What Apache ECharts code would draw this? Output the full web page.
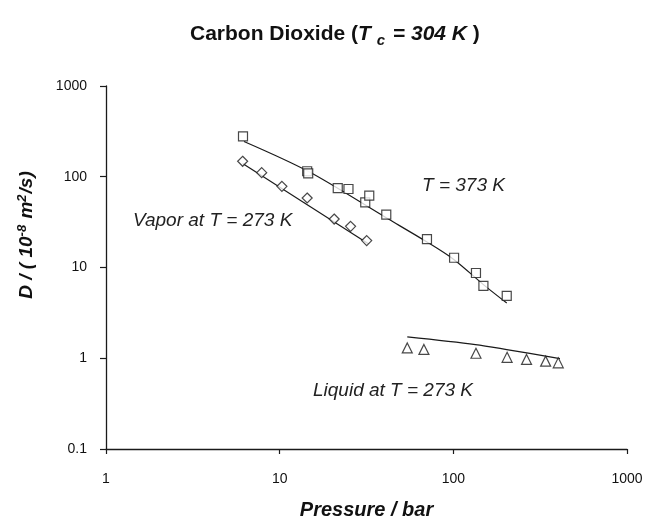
<!DOCTYPE html>
<html>
<head>
<meta charset="utf-8">
<script src="https://cdn.jsdelivr.net/npm/echarts@6/dist/echarts.min.js"></script>
<style>
  html, body { margin: 0; padding: 0; background: #fff; }
  #chart { width: 645px; height: 522px; }
</style>
</head>
<body>
<div id="chart"></div>
<script>
// T = 373 K (squares), pressure in bar, D in 1e-8 m2/s
var hotP = [6.15, 14.4, 14.6, 21.6, 24.9, 31.1, 32.8, 41.1, 70.5, 101, 135, 149, 203];
var hotD = [279, 115, 109, 75.1, 73.3, 52.2, 61.9, 38.3, 20.5, 12.8, 8.7, 6.26, 4.86];
var hotFitP = [6.23, 14.6, 41.3, 70.5, 101, 149, 203];
var hotFitD = [245, 114.7, 35.1, 19.1, 12.2, 6.48, 4.06];

// vapor at T = 273 K (diamonds)
var vapP = [6.12, 7.88, 10.3, 14.4, 20.6, 25.6, 31.7];
var vapD = [148, 111, 78.4, 58.3, 34.2, 28.4, 19.8];
var vapFitP = [6.12, 32.4];
var vapFitD = [140, 18.3];

// liquid at T = 273 K (triangles)
var liqP = [54.3, 67.7, 135, 204, 264, 340, 402];
var liqD = [1.30, 1.25, 1.135, 1.025, 0.97, 0.93, 0.89];
var liqFitP = [54.3, 134, 203, 411];
var liqFitD = [1.717, 1.416, 1.247, 0.99];

var xTicks = [1, 10, 100, 1000];
var yTicks = [0.1, 1, 10, 100, 1000];

function pairs(xs, ys) {
  return xs.map(function (x, i) { return [x, ys[i]]; });
}

var FONT = '"Liberation Sans", Arial, sans-serif';
var chart = echarts.init(document.getElementById('chart'));

function fitLine(xs, ys, smooth) {
  return {
    type: 'line',
    data: pairs(xs, ys),
    showSymbol: false,
    smooth: smooth,
    lineStyle: { color: '#1a1a1a', width: 1.2 },
    z: 2,
    silent: true
  };
}
function points(xs, ys, symbol, size) {
  return {
    type: 'scatter',
    data: pairs(xs, ys),
    symbol: symbol,
    symbolSize: size,
    itemStyle: { color: '#fff', borderColor: '#1a1a1a', borderWidth: 1.2 },
    z: 3,
    silent: true
  };
}
function tickText(v) { return String(+(+v).toPrecision(3)); }

var option = {
  backgroundColor: '#fff',
  animation: false,
  title: {
    text: '{b|Carbon Dioxide (}{i|T }{s|c}{i| = 304 K}{b| )}',
    left: 185,
    top: 16,
    textStyle: {
      rich: {
        b: { fontFamily: FONT, fontSize: 21, fontWeight: 'bold', color: '#111' },
        i: { fontFamily: FONT, fontSize: 21, fontWeight: 'bold', fontStyle: 'italic', color: '#111' },
        s: { fontFamily: FONT, fontSize: 15, fontWeight: 'bold', fontStyle: 'italic', color: '#111', padding: [12, 2, 0, 0] }
      }
    }
  },
  grid: { left: 106, right: 18, top: 86, bottom: 73, outerBoundsMode: 'none', containLabel: false },
  xAxis: {
    type: 'log',
    logBase: 10,
    min: xTicks[0],
    max: xTicks[xTicks.length - 1],
    name: 'Pressure / bar',
    nameLocation: 'middle',
    nameGap: 51,
    nameTextStyle: { fontFamily: FONT, fontSize: 20, fontWeight: 'bold', fontStyle: 'italic', color: '#111' },
    axisLine: { lineStyle: { color: '#1a1a1a', width: 1.3 } },
    axisTick: { show: true, inside: false, length: 5, lineStyle: { color: '#1a1a1a', width: 1.2 } },
    minorTick: { show: false },
    splitLine: { show: false },
    axisLabel: { fontFamily: FONT, fontSize: 14, color: '#111', margin: 23, formatter: tickText }
  },
  yAxis: {
    type: 'log',
    logBase: 10,
    min: yTicks[0],
    max: yTicks[yTicks.length - 1],
    axisLine: { show: true, lineStyle: { color: '#1a1a1a', width: 1.3 } },
    axisTick: { show: true, inside: false, length: 6, lineStyle: { color: '#1a1a1a', width: 1.2 } },
    minorTick: { show: false },
    splitLine: { show: false },
    axisLabel: { fontFamily: FONT, fontSize: 14, color: '#111', margin: 19, formatter: tickText }
  },
  graphic: [
    {
      type: 'text', x: 27, y: 235, rotation: Math.PI / 2,
      style: {
        text: '{a|D / ( 10}{sup|-8}{a| m}{sup|2}{a|/s)}',
        align: 'center', verticalAlign: 'middle',
        rich: {
          a: { fontFamily: FONT, fontSize: 19, fontWeight: 'bold', fontStyle: 'italic', fill: '#111' },
          sup: { fontFamily: FONT, fontSize: 13, fontWeight: 'bold', fontStyle: 'italic', fill: '#111', padding: [0, 1, 10, 0] }
        }
      }
    },
    {
      type: 'text', x: 422, y: 186,
      style: { text: 'T = 373 K', font: 'italic 19px ' + FONT, fill: '#222', verticalAlign: 'middle' }
    },
    {
      type: 'text', x: 133, y: 221,
      style: { text: 'Vapor at T = 273 K', font: 'italic 19px ' + FONT, fill: '#222', verticalAlign: 'middle' }
    },
    {
      type: 'text', x: 313, y: 391,
      style: { text: 'Liquid at T = 273 K', font: 'italic 19px ' + FONT, fill: '#222', verticalAlign: 'middle' }
    }
  ],
  series: [
    fitLine(hotFitP, hotFitD, 0.3),
    fitLine(vapFitP, vapFitD, false),
    fitLine(liqFitP, liqFitD, 0.3),
    points(hotP, hotD, 'rect', 9),
    points(vapP, vapD, 'diamond', 10),
    points(liqP, liqD, 'triangle', 10)
  ]
};

chart.setOption(option);
</script>
</body>
</html>
